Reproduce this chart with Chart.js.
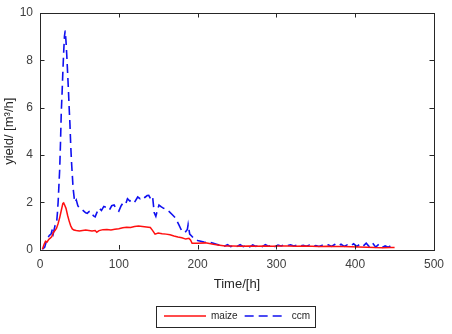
<!DOCTYPE html>
<html>
<head>
<meta charset="utf-8">
<script src="https://cdn.jsdelivr.net/npm/chart.js@4/dist/chart.umd.min.js"></script>
<style>
    html, body { margin: 0; padding: 0; background: #fff; }
    #grafico { display: block; }
</style>
</head>
<body>
<canvas id="grafico" width="452" height="334"></canvas>
<script>
const xTicks = [0, 100, 200, 300, 400, 500];
const yTicks = [0, 2, 4, 6, 8, 10];

const maizeTime = [
    3, 5, 7, 9, 11, 13, 15, 17, 19, 21,
    23, 25, 27, 29, 30, 31, 33, 35, 37, 39,
    41, 43, 46, 50, 54, 58, 62, 66, 70, 72,
    75, 80, 85, 90, 95, 100, 105, 110, 115, 120,
    125, 130, 135, 140, 143, 146, 150, 155, 160, 165,
    170, 175, 180, 185, 189, 191, 193, 200, 210, 220,
    228, 235, 245, 255, 265, 275, 285, 295, 305, 315,
    325, 335, 345, 355, 365, 375, 385, 395, 405, 415,
    425, 435, 445, 450
];
const maizeYield = [
    0, 0.2, 0.35, 0.32, 0.42, 0.48, 0.55, 0.72, 0.8, 0.9,
    1.1, 1.35, 1.65, 1.95, 1.97, 1.9, 1.74, 1.45, 1.2, 1.0,
    0.87, 0.82, 0.8, 0.78, 0.8, 0.82, 0.8, 0.78, 0.8, 0.73,
    0.8, 0.84, 0.85, 0.83, 0.86, 0.88, 0.92, 0.94, 0.93, 0.97,
    0.99, 0.97, 0.95, 0.93, 0.8, 0.65, 0.7, 0.67, 0.65, 0.62,
    0.57, 0.53, 0.5, 0.44, 0.47, 0.4, 0.26, 0.26, 0.28, 0.22,
    0.18, 0.15, 0.15, 0.14, 0.15, 0.14, 0.15, 0.14, 0.15, 0.15,
    0.14, 0.15, 0.14, 0.13, 0.14, 0.13, 0.13, 0.12, 0.11, 0.1,
    0.08, 0.07, 0.08, 0.08
];

const ccmTime = [
    3, 6, 8, 10, 12, 14, 16, 17, 19, 21,
    22, 23, 24, 25, 26, 27, 28, 29, 30, 31,
    32, 33, 34, 35, 36, 37, 38, 39, 40, 42,
    44, 46, 48, 50, 54, 58, 60, 62, 64, 66,
    68, 70, 72, 75, 78, 81, 84, 88, 91, 94,
    97, 100, 103, 106, 109, 111, 114, 117, 120, 124,
    127, 130, 133, 136, 138, 141, 143, 145, 147, 149,
    151, 154, 157, 160, 164, 168, 172, 176, 180, 184,
    187, 188, 190, 193, 196, 200, 204, 208, 212, 216,
    220, 224, 228, 231,
    234, 238, 242, 246, 250, 254, 258, 262, 266, 270,
    274, 278, 282, 286, 290, 294, 298, 302, 306, 310,
    314, 318, 322, 326, 330, 334, 338, 342, 346, 350,
    354, 358, 362, 366, 370, 374, 378, 382, 386, 390,
    394, 398, 402, 406, 410, 414, 418, 422, 426, 430,
    434, 438, 442, 446, 450
];
const ccmYield = [
    0, 0.1, 0.35, 0.5, 0.6, 0.65, 0.9, 0.7, 1.0, 1.1,
    1.5, 2.0, 2.7, 3.4, 4.5, 5.8, 6.6, 7.5, 8.3, 9.0,
    9.26, 8.8, 8.2, 7.5, 6.8, 6.0, 5.3, 4.4, 3.7, 2.6,
    2.0, 2.1, 1.85, 1.75, 1.67, 1.55, 1.53, 1.6, 1.62, 1.5,
    1.42, 1.38, 1.55, 1.75, 1.65, 1.82, 1.78, 1.67, 1.85, 1.88,
    1.7, 1.62, 1.85, 2.0, 1.95, 2.15, 2.05, 2.1, 2.0, 2.22,
    2.15, 2.25, 2.2, 2.28, 2.29, 2.1, 2.2, 1.55, 1.4, 1.67,
    1.88, 1.8, 1.74, 1.7, 1.6, 1.47, 1.33, 1.06, 0.78, 0.72,
    0.85, 1.06, 0.65, 0.55, 0.44, 0.38, 0.35, 0.32, 0.3, 0.3,
    0.26, 0.22, 0.18, 0.16,
    0.14, 0.2, 0.12, 0.18, 0.13, 0.2, 0.12, 0.17, 0.11, 0.19,
    0.13, 0.18, 0.12, 0.2, 0.14, 0.18, 0.12, 0.19, 0.15, 0.2,
    0.16, 0.2, 0.15, 0.19, 0.14, 0.18, 0.14, 0.19, 0.13, 0.17,
    0.13, 0.18, 0.14, 0.2, 0.13, 0.21, 0.14, 0.22, 0.13, 0.2,
    0.15, 0.24, 0.13, 0.22, 0.14, 0.27, 0.12, 0.28, 0.1, 0.22,
    0.08, 0.15, 0.1, 0.17, 0.12
];

const toPoints = (t, v) => t.map((x, i) => ({ x: x, y: v[i] }));

// matlab style box: frame plus inward ticks on all four sides
const marcoPlugin = {
    id: 'marco',
    afterDraw(chart) {
        const c = chart.ctx;
        const a = chart.chartArea;
        const xs = chart.scales.x;
        const ys = chart.scales.y;
        const len = 4.5;
        c.save();
        c.strokeStyle = '#262626';
        c.lineWidth = 1;
        c.beginPath();
        xTicks.forEach(v => {
            const p = Math.round(xs.getPixelForValue(v)) + 0.5;
            c.moveTo(p, a.bottom); c.lineTo(p, a.bottom - len);
            c.moveTo(p, a.top); c.lineTo(p, a.top + len);
        });
        yTicks.forEach(v => {
            const p = Math.round(ys.getPixelForValue(v)) + 0.5;
            c.moveTo(a.left, p); c.lineTo(a.left + len, p);
            c.moveTo(a.right, p); c.lineTo(a.right - len, p);
        });
        c.stroke();
        c.strokeRect(Math.round(a.left) + 0.5, Math.round(a.top) + 0.5,
            Math.round(a.right - a.left), Math.round(a.bottom - a.top));

        // box round the legend
        const hb = chart.legend.legendHitBoxes;
        if (hb && hb.length) {
            const first = hb[0];
            const last = hb[hb.length - 1];
            const cy = first.top + first.height / 2;
            const l = Math.round(first.left - 8) + 0.5;
            const r = Math.round(last.left + last.width + 5) + 0.5;
            c.strokeRect(l, Math.round(cy - 10.5) + 0.5, r - l, 21);
        }
        c.restore();
    }
};

document.addEventListener('DOMContentLoaded', function () {
    const ctx = document.getElementById('grafico');
    new Chart(ctx.getContext('2d'), {
        type: 'line',
        data: {
            datasets: [{
                label: 'maize',
                data: toPoints(maizeTime, maizeYield),
                borderColor: '#ff1010',
                borderWidth: 1.5,
                pointRadius: 0,
                tension: 0,
                fill: false
            }, {
                label: 'ccm',
                data: toPoints(ccmTime, ccmYield),
                borderColor: '#1010f0',
                borderWidth: 1.6,
                borderDash: [9, 5],
                pointRadius: 0,
                tension: 0,
                fill: false
            }]
        },
        options: {
            responsive: false,
            animation: false,
            layout: {
                padding: { top: 6, right: 15, bottom: 3, left: 0 }
            },
            scales: {
                x: {
                    type: 'linear',
                    min: 0,
                    max: 500,
                    afterBuildTicks: s => { s.ticks = xTicks.map(v => ({ value: v })); },
                    afterFit: s => { s.height = 54.5; },
                    grid: { display: false, drawTicks: false },
                    border: { display: false },
                    ticks: {
                        padding: 8,
                        maxRotation: 0,
                        color: '#404040',
                        font: { family: 'Liberation Sans', size: 12 }
                    },
                    title: {
                        display: true,
                        text: 'Time/[h]',
                        color: '#262626',
                        padding: { top: 12, bottom: 12 },
                        font: { family: 'Liberation Sans', size: 13 }
                    }
                },
                y: {
                    min: 0,
                    max: 10,
                    afterBuildTicks: s => { s.ticks = yTicks.map(v => ({ value: v })); },
                    afterFit: s => { s.width = 40; },
                    grid: { display: false, drawTicks: false },
                    border: { display: false },
                    ticks: {
                        padding: 7,
                        color: '#404040',
                        font: { family: 'Liberation Sans', size: 12, lineHeight: 1 }
                    },
                    title: {
                        display: true,
                        text: 'yield/ [m³/h]',
                        color: '#262626',
                        padding: { top: 2, bottom: 2 },
                        font: { family: 'Liberation Sans', size: 13 }
                    }
                }
            },
            plugins: {
                legend: {
                    position: 'bottom',
                    fullSize: false,
                    labels: {
                        usePointStyle: true,
                        pointStyleWidth: 42,
                        padding: 7,
                        color: '#262626',
                        font: { family: 'Liberation Sans', size: 10 },
                        generateLabels: chart => chart.data.datasets.map((ds, i) => ({
                            text: ds.label,
                            strokeStyle: ds.borderColor,
                            fillStyle: ds.borderColor,
                            lineWidth: ds.borderWidth,
                            lineDash: ds.borderDash || [],
                            pointStyle: 'line',
                            fontColor: '#262626',
                            datasetIndex: i
                        }))
                    }
                },
                tooltip: { enabled: false }
            }
        },
        plugins: [marcoPlugin]
    });
});
</script>
</body>
</html>
